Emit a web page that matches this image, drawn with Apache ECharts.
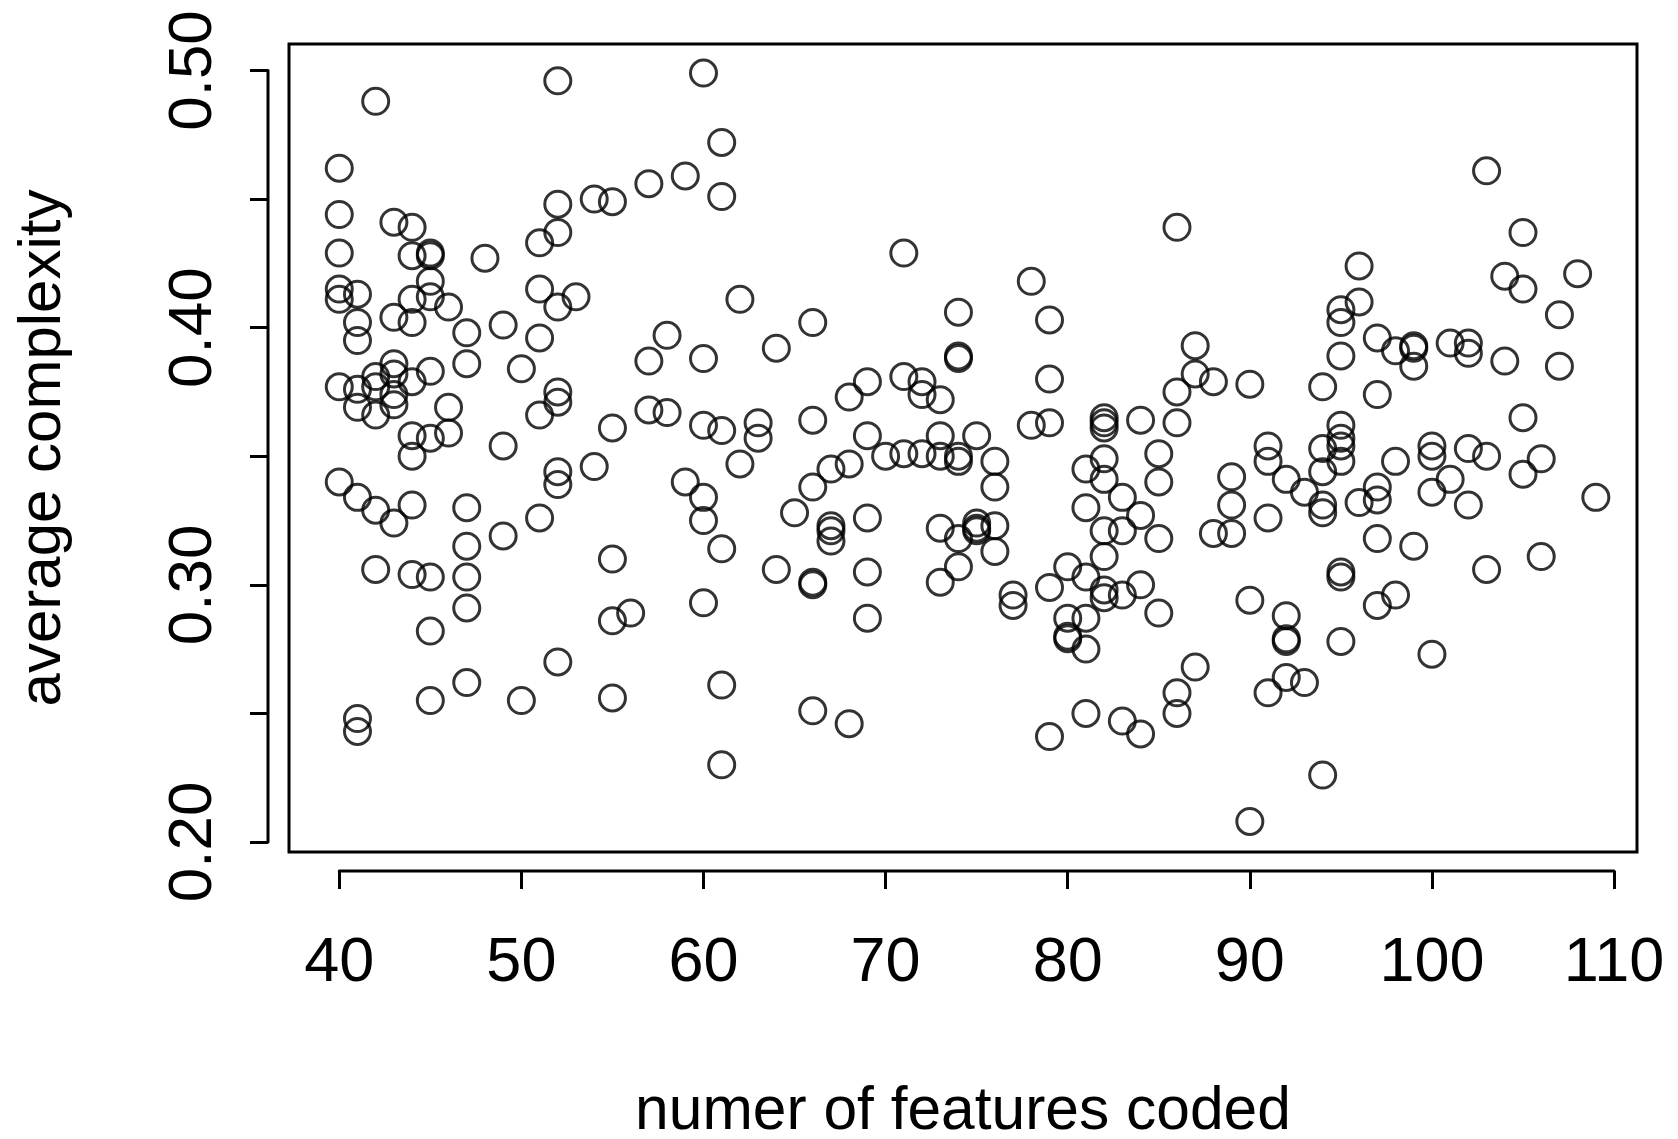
<!DOCTYPE html>
<html>
<head>
<meta charset="utf-8">
<script src="https://cdn.jsdelivr.net/npm/echarts@6/dist/echarts.min.js"></script>
<style>
  html, body { margin: 0; padding: 0; background: #fff; }
  #chart { width: 1678px; height: 1139px; }
</style>
</head>
<body>
<div id="chart"></div>
<script>
// Number of features coded for each observation (one row per x value)
const featuresCoded = [
  40,40,40,40,40,40,40,
  41,41,41,41,41,41,41,41,
  42,42,42,42,42,42,
  43,43,43,43,43,43,43,
  44,44,44,44,44,44,44,44,44,
  45,45,45,45,45,45,45,45,45,
  46,46,46,
  47,47,47,47,47,47,47,
  48,
  49,49,49,
  50,50,
  51,51,51,51,51,
  52,52,52,52,52,52,52,52,52,
  53,
  54,54,
  55,55,55,55,55,
  56,
  57,57,57,
  58,58,
  59,59,
  60,60,60,60,60,60,
  61,61,61,61,61,61,
  62,62,
  63,63,
  64,64,
  65,
  66,66,66,66,66,66,
  67,67,67,67,
  68,68,68,
  69,69,69,69,69,
  70,
  71,71,71,
  72,72,72,
  73,73,73,73,73,
  74,74,74,74,74,74,74,
  75,75,75,75,
  76,76,76,76,
  77,77,
  78,78,
  79,79,79,79,79,
  80,80,80,80,
  81,81,81,81,81,81,
  82,82,82,82,82,82,82,82,82,
  83,83,83,83,
  84,84,84,84,
  85,85,85,85,
  86,86,86,86,86,
  87,87,87,
  88,88,
  89,89,89,
  90,90,90,
  91,91,91,91,
  92,92,92,92,92,
  93,93,
  94,94,94,94,94,94,
  95,95,95,95,95,95,95,95,95,95,
  96,96,96,
  97,97,97,97,97,97,
  98,98,98,
  99,99,99,99,
  100,100,100,100,
  101,101,
  102,102,102,102,
  103,103,103,
  104,104,
  105,105,105,105,
  106,106,
  107,107,
  108,
  109
];

// Average complexity, in the same order as featuresCoded
const averageComplexity = [
  0.462,0.444,0.429,0.415,0.411,0.377,0.340,
  0.413,0.402,0.395,0.376,0.369,0.334,0.248,0.243,
  0.488,0.381,0.377,0.366,0.329,0.306,
  0.441,0.404,0.386,0.382,0.374,0.370,0.324,
  0.439,0.428,0.411,0.402,0.379,0.358,0.350,0.331,0.304,
  0.429,0.428,0.418,0.412,0.383,0.357,0.303,0.282,0.255,
  0.408,0.369,0.359,
  0.398,0.386,0.330,0.315,0.303,0.291,0.262,
  0.427,
  0.401,0.354,0.319,
  0.384,0.255,
  0.433,0.415,0.396,0.366,0.326,
  0.496,0.448,0.437,0.408,0.375,0.371,0.344,0.339,0.270,
  0.412,
  0.450,0.346,
  0.449,0.361,0.310,0.286,0.256,
  0.289,
  0.456,0.387,0.368,
  0.397,0.367,
  0.459,0.340,
  0.499,0.388,0.362,0.334,0.325,0.293,
  0.472,0.451,0.360,0.314,0.261,0.230,
  0.411,0.347,
  0.363,0.357,
  0.392,0.306,
  0.328,
  0.402,0.364,0.338,0.301,0.300,0.251,
  0.345,0.323,0.321,0.317,
  0.373,0.347,0.246,
  0.379,0.358,0.326,0.305,0.287,
  0.350,
  0.429,0.381,0.351,
  0.379,0.374,0.351,
  0.372,0.358,0.350,0.322,0.301,
  0.406,0.389,0.388,0.350,0.348,0.318,0.307,
  0.358,0.324,0.322,0.321,
  0.348,0.338,0.323,0.313,
  0.296,0.292,
  0.418,0.362,
  0.403,0.380,0.363,0.299,0.241,
  0.307,0.287,0.280,0.279,
  0.345,0.330,0.303,0.287,0.275,0.250,
  0.365,0.363,0.361,0.349,0.341,0.321,0.311,0.298,0.295,
  0.334,0.321,0.296,0.247,
  0.364,0.327,0.300,0.242,
  0.351,0.340,0.318,0.289,
  0.439,0.375,0.363,0.258,0.250,
  0.393,0.382,0.268,
  0.379,0.320,
  0.342,0.331,0.320,
  0.378,0.294,0.208,
  0.354,0.348,0.326,0.258,
  0.341,0.288,0.279,0.278,0.264,
  0.336,0.262,
  0.377,0.353,0.344,0.331,0.328,0.226,
  0.407,0.402,0.389,0.362,0.357,0.354,0.348,0.305,0.303,0.278,
  0.424,0.410,0.332,
  0.396,0.374,0.338,0.333,0.318,0.292,
  0.391,0.348,0.296,
  0.393,0.392,0.385,0.315,
  0.354,0.350,0.336,0.273,
  0.394,0.341,
  0.394,0.390,0.353,0.331,
  0.461,0.350,0.306,
  0.420,0.387,
  0.437,0.415,0.365,0.343,
  0.349,0.311,
  0.405,0.385,
  0.421,
  0.334
];

// Tick positions and labelled ticks
const xTicks = [40, 50, 60, 70, 80, 90, 100, 110];
const yTicks = [0.20, 0.25, 0.30, 0.35, 0.40, 0.45, 0.50];
const yLabelTicks = [0.20, 0.30, 0.40, 0.50];

const xTitle = 'numer of features coded';
const yTitle = 'average complexity';

// Layout
const FONT = '"Liberation Sans", Arial, Helvetica, sans-serif';
const INK = '#000';
const LW = 3;
const GRID = { left: 289, top: 44, width: 1348, height: 808 };
const X_OFFSET = 19;   // gap between plot box and x axis line
const Y_OFFSET = 21;   // gap between plot box and y axis line

const points = featuresCoded.map((x, i) => [x, averageComplexity[i]]);

const chart = echarts.init(document.getElementById('chart'), null, { renderer: 'canvas' });

const option = {
  backgroundColor: '#fff',
  animation: false,
  grid: {
    left: GRID.left, top: GRID.top, width: GRID.width, height: GRID.height,
    containLabel: false,
    outerBoundsMode: 'none',
    show: true, borderColor: INK, borderWidth: LW, backgroundColor: 'transparent'
  },
  xAxis: {
    type: 'value',
    min: 37.24, max: 111.26,
    offset: X_OFFSET,
    splitLine: { show: false },
    axisLine: { show: false },
    axisTick: {
      show: true, length: 18, inside: false,
      customValues: xTicks,
      lineStyle: { color: INK, width: LW }
    },
    axisLabel: {
      customValues: xTicks,
      margin: 61,
      color: INK, fontFamily: FONT, fontSize: 63,
      formatter: v => String(v)
    },
    name: xTitle,
    nameLocation: 'middle',
    nameGap: 211,
    nameTextStyle: { color: INK, fontFamily: FONT, fontSize: 60.5 }
  },
  yAxis: {
    type: 'value',
    min: 0.1961, max: 0.5103,
    offset: Y_OFFSET,
    splitLine: { show: false },
    axisLine: { show: false },
    axisTick: {
      show: true, length: 18, inside: false,
      customValues: yTicks,
      lineStyle: { color: INK, width: LW }
    },
    axisLabel: {
      customValues: yLabelTicks,
      rotate: 90,
      margin: 43,
      color: INK, fontFamily: FONT, fontSize: 62,
      formatter: v => v.toFixed(2)
    },
    name: yTitle,
    nameLocation: 'middle',
    nameRotate: 90,
    nameGap: 195,
    nameTextStyle: { color: INK, fontFamily: FONT, fontSize: 60 }
  },
  series: [{
    type: 'scatter',
    data: points,
    symbol: 'circle',
    symbolSize: 26,
    itemStyle: { color: 'transparent', borderColor: INK, borderWidth: LW },
    emphasis: { disabled: true }
  }]
};

chart.setOption(option);

// Axis lines span only the first to last tick, set off from the plot box
const lo = chart.convertToPixel({ gridIndex: 0 }, [xTicks[0], yTicks[0]]);
const hi = chart.convertToPixel({ gridIndex: 0 }, [xTicks[xTicks.length - 1], yTicks[yTicks.length - 1]]);
const axisY = GRID.top + GRID.height + X_OFFSET;
const axisX = GRID.left - Y_OFFSET;
chart.setOption({
  graphic: [
    { type: 'line', shape: { x1: lo[0], y1: axisY, x2: hi[0], y2: axisY },
      style: { stroke: INK, lineWidth: LW, lineCap: 'round' }, z: 10 },
    { type: 'line', shape: { x1: axisX, y1: lo[1], x2: axisX, y2: hi[1] },
      style: { stroke: INK, lineWidth: LW, lineCap: 'round' }, z: 10 }
  ]
});
</script>
</body>
</html>
